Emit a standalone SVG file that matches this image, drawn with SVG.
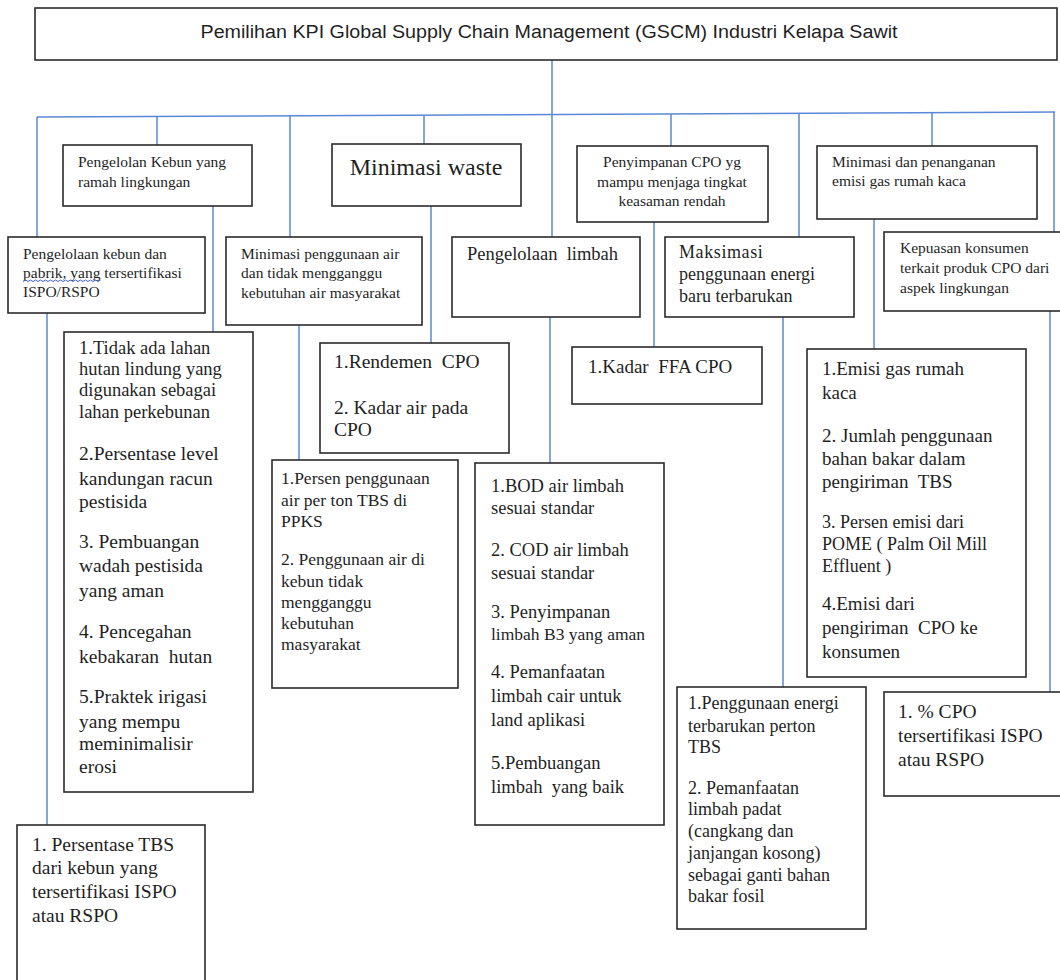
<svg xmlns="http://www.w3.org/2000/svg" width="1060" height="980" viewBox="0 0 1060 980">
<style>
.box{fill:#fff;stroke:#2b2b2b;stroke-width:1.6}
.t{font-family:"Liberation Serif","Times New Roman",serif;fill:#1f1f1f}
.s{font-size:15.5px}
.m{font-size:18.5px}
.l{font-size:19.5px}
.title{font-family:"Liberation Sans",Arial,sans-serif;font-size:18px;fill:#1f1f1f}
.conn line,.conn polyline{stroke:#5a88d8;stroke-width:1.5;fill:none}
</style>
<rect width="1060" height="980" fill="#fff"/>
<g class="conn">
<line x1="552" y1="60" x2="552" y2="114"/>
<line x1="37" y1="117" x2="1055" y2="112"/>
<line x1="37" y1="117" x2="37" y2="237"/>
<line x1="157" y1="116.5" x2="157" y2="145"/>
<line x1="290" y1="116" x2="290" y2="237"/>
<line x1="424" y1="115.5" x2="424" y2="144"/>
<line x1="552" y1="114" x2="552" y2="237"/>
<line x1="671" y1="114" x2="671" y2="146"/>
<line x1="799" y1="113" x2="799" y2="237"/>
<line x1="932" y1="112.5" x2="932" y2="146"/>
<line x1="1054" y1="112" x2="1054" y2="232"/>
<line x1="213" y1="206" x2="213" y2="332"/>
<line x1="47" y1="313" x2="47" y2="825"/>
<line x1="299" y1="325" x2="299" y2="460"/>
<line x1="431" y1="206" x2="431" y2="343"/>
<line x1="550" y1="317" x2="550" y2="463"/>
<line x1="654" y1="222" x2="654" y2="347"/>
<line x1="783" y1="317" x2="783" y2="687"/>
<line x1="874" y1="219" x2="874" y2="349"/>
<line x1="1050" y1="311" x2="1050" y2="692"/>
</g>
<g id="title">
<rect class="box" x="35" y="8" width="1022" height="52"/>
<text class="title" x="549" y="38" text-anchor="middle" textLength="697" lengthAdjust="spacingAndGlyphs">Pemilihan KPI Global Supply Chain Management (GSCM) Industri Kelapa Sawit</text>
</g>
<g id="n-kebun-ramah">
<rect class="box" x="63" y="145" width="189" height="61"/>
<text class="t s" x="78" y="167">Pengelolan Kebun yang</text>
<text class="t s" x="78" y="187">ramah lingkungan</text>
</g>
<g id="n-ispo">
<rect class="box" x="8" y="237" width="197" height="76"/>
<text class="t s" x="23" y="259">Pengelolaan kebun dan</text>
<text class="t s" x="23" y="278">pabrik, yang tersertifikasi</text>
<text class="t s" x="23" y="297">ISPO/RSPO</text>
<path d="M23 281.5 l2.5 -1.5 l2.5 1.5 l2.5 -1.5 l2.5 1.5 l2.5 -1.5 l2.5 1.5 l2.5 -1.5 l2.5 1.5 l2.5 -1.5 l2.5 1.5 l2.5 -1.5 l2.5 1.5 l2.5 -1.5 l2.5 1.5 l2.5 -1.5 l2.5 1.5 l2.5 -1.5 l2.5 1.5 l2.5 -1.5 l2.5 1.5 l2.5 -1.5 l2.5 1.5 l2.5 -1.5 l2.5 1.5 l2.5 -1.5 l2.5 1.5 l2.5 -1.5 l2.5 1.5 l2.5 -1.5 l2.5 1.5 l2.5 -1.5" fill="none" stroke="#3f63c9" stroke-width="1"/>
</g>
<g id="n-air">
<rect class="box" x="226" y="237" width="196" height="88"/>
<text class="t s" x="241" y="259">Minimasi penggunaan air</text>
<text class="t s" x="241" y="278">dan tidak mengganggu</text>
<text class="t s" x="241" y="298">kebutuhan air masyarakat</text>
</g>
<g id="n-waste">
<rect class="box" x="332" y="144" width="189" height="62"/>
<text class="t" x="426" y="175" text-anchor="middle" font-size="24">Minimasi waste</text>
</g>
<g id="n-limbah">
<rect class="box" x="452" y="237" width="188" height="80"/>
<text class="t m" x="467" y="260" xml:space="preserve">Pengelolaan  limbah</text>
</g>
<g id="n-cpo">
<rect class="box" x="577" y="146" width="191" height="76"/>
<text class="t s" x="672" y="167" text-anchor="middle">Penyimpanan CPO yg</text>
<text class="t s" x="672" y="187" text-anchor="middle">mampu menjaga tingkat</text>
<text class="t s" x="672" y="206" text-anchor="middle">keasaman rendah</text>
</g>
<g id="n-energi">
<rect class="box" x="665" y="237" width="189" height="80"/>
<text class="t" x="679" y="258" font-size="18" letter-spacing="0.6">Maksimasi</text>
<text class="t" x="679" y="280" font-size="18">penggunaan energi</text>
<text class="t" x="679" y="302" font-size="18">baru terbarukan</text>
</g>
<g id="n-emisi">
<rect class="box" x="817" y="146" width="220" height="73"/>
<text class="t s" x="832" y="167">Minimasi dan penanganan</text>
<text class="t s" x="832" y="186">emisi gas rumah kaca</text>
</g>
<g id="n-konsumen">
<rect class="box" x="884" y="232" width="180" height="79"/>
<text class="t s" x="900" y="253">Kepuasan konsumen</text>
<text class="t s" x="900" y="273">terkait produk CPO dari</text>
<text class="t s" x="900" y="293">aspek lingkungan</text>
</g>
<g id="k-kebun">
<rect class="box" x="64" y="332" width="189" height="460"/>
<text class="t m" x="79" y="354">1.Tidak ada lahan</text>
<text class="t m" x="79" y="375">hutan lindung yang</text>
<text class="t m" x="79" y="396">digunakan sebagai</text>
<text class="t m" x="79" y="418">lahan perkebunan</text>
<text class="t l" x="79" y="460">2.Persentase level</text>
<text class="t l" x="79" y="485">kandungan racun</text>
<text class="t l" x="79" y="508">pestisida</text>
<text class="t l" x="79" y="548">3. Pembuangan</text>
<text class="t l" x="79" y="572">wadah pestisida</text>
<text class="t l" x="79" y="597">yang  aman</text>
<text class="t l" x="79" y="638">4. Pencegahan</text>
<text class="t l" x="79" y="663" xml:space="preserve">kebakaran  hutan</text>
<text class="t l" x="79" y="703">5.Praktek irigasi</text>
<text class="t l" x="79" y="728">yang mempu</text>
<text class="t l" x="79" y="750">meminimalisir</text>
<text class="t l" x="79" y="773">erosi</text>
</g>
<g id="k-waste">
<rect class="box" x="320" y="343" width="189" height="110"/>
<text class="t l" x="334" y="368" xml:space="preserve">1.Rendemen  CPO</text>
<text class="t l" x="334" y="414">2. Kadar air pada</text>
<text class="t l" x="334" y="436">CPO</text>
</g>
<g id="k-air">
<rect class="box" x="272" y="460" width="186" height="228"/>
<text class="t" font-size="17.5" x="281" y="484">1.Persen penggunaan</text>
<text class="t" font-size="17.5" x="281" y="506">air per ton TBS di</text>
<text class="t" font-size="17.5" x="281" y="527">PPKS</text>
<text class="t" font-size="17.5" x="281" y="565">2. Penggunaan air di</text>
<text class="t" font-size="17.5" x="281" y="587">kebun tidak</text>
<text class="t" font-size="17.5" x="281" y="608">mengganggu</text>
<text class="t" font-size="17.5" x="281" y="629">kebutuhan</text>
<text class="t" font-size="17.5" x="281" y="650">masyarakat</text>
</g>
<g id="k-limbah">
<rect class="box" x="475" y="463" width="189" height="362"/>
<text class="t m" x="491" y="492">1.BOD air limbah</text>
<text class="t m" x="491" y="514">sesuai standar</text>
<text class="t m" x="491" y="556">2. COD air limbah</text>
<text class="t m" x="491" y="579">sesuai standar</text>
<text class="t m" x="491" y="618">3. Penyimpanan</text>
<text class="t" font-size="17.5" x="491" y="640">limbah B3 yang aman</text>
<text class="t m" x="491" y="678">4. Pemanfaatan</text>
<text class="t m" x="491" y="702">limbah cair untuk</text>
<text class="t m" x="491" y="726">land aplikasi</text>
<text class="t m" x="491" y="769">5.Pembuangan</text>
<text class="t m" x="491" y="793" xml:space="preserve">limbah  yang baik</text>
</g>
<g id="k-ffa">
<rect class="box" x="572" y="347" width="190" height="57"/>
<text class="t" font-size="19" x="588" y="373" xml:space="preserve">1.Kadar  FFA CPO</text>
</g>
<g id="k-emisi">
<rect class="box" x="807" y="349" width="219" height="328"/>
<text class="t" font-size="19" x="822" y="375">1.Emisi gas rumah</text>
<text class="t" font-size="19" x="822" y="399">kaca</text>
<text class="t" font-size="19" x="822" y="442">2. Jumlah penggunaan</text>
<text class="t" font-size="19" x="822" y="465">bahan bakar dalam</text>
<text class="t" font-size="19" x="822" y="488" xml:space="preserve">pengiriman  TBS</text>
<text class="t" font-size="18" x="822" y="528">3. Persen emisi dari</text>
<text class="t" font-size="18" x="822" y="550">POME ( Palm Oil Mill</text>
<text class="t" font-size="18" x="822" y="572">Effluent )</text>
<text class="t" font-size="19" x="822" y="610">4.Emisi dari</text>
<text class="t" font-size="19" x="822" y="634" xml:space="preserve">pengiriman  CPO ke</text>
<text class="t" font-size="19" x="822" y="658">konsumen</text>
</g>
<g id="k-energi">
<rect class="box" x="677" y="687" width="189" height="242"/>
<text class="t" font-size="18" x="688" y="709">1.Penggunaan energi</text>
<text class="t" font-size="18" x="688" y="732">terbarukan perton</text>
<text class="t" font-size="18" x="688" y="753">TBS</text>
<text class="t" font-size="18" x="688" y="794">2. Pemanfaatan</text>
<text class="t" font-size="18" x="688" y="815">limbah padat</text>
<text class="t" font-size="18" x="688" y="837">(cangkang dan</text>
<text class="t" font-size="18" x="688" y="859">janjangan kosong)</text>
<text class="t" font-size="18" x="688" y="881">sebagai ganti bahan</text>
<text class="t" font-size="18" x="688" y="902">bakar fosil</text>
</g>
<g id="k-konsumen">
<rect class="box" x="884" y="692" width="180" height="104"/>
<text class="t l" x="898" y="718">1. % CPO</text>
<text class="t l" x="898" y="742">tersertifikasi ISPO</text>
<text class="t l" x="898" y="766">atau RSPO</text>
</g>
<g id="k-ispo">
<rect class="box" x="17" y="825" width="188" height="165"/>
<text class="t l" x="32" y="851">1. Persentase TBS</text>
<text class="t l" x="32" y="874">dari kebun yang</text>
<text class="t l" x="32" y="898">tersertifikasi ISPO</text>
<text class="t l" x="32" y="922">atau RSPO</text>
</g>
</svg>
